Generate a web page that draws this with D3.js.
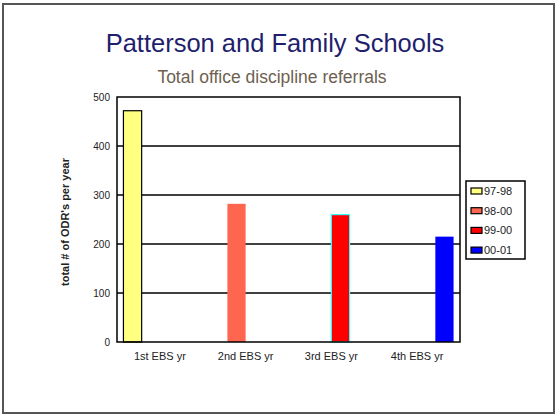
<!DOCTYPE html>
<html>
<head>
<meta charset="utf-8">
<script src="https://cdn.jsdelivr.net/npm/d3@7"></script>
<style>
  body { margin: 0; background: #fff; }
  svg { display: block; font-family: "Liberation Sans", Arial, sans-serif; }
</style>
</head>
<body>
<div id="chart"></div>
<script>
const categories = ["1st EBS yr", "2nd EBS yr", "3rd EBS yr", "4th EBS yr"];
const seriesNames = ["97-98", "98-00", "99-00", "00-01"];
const seriesColors = ["#ffff80", "#ff6650", "#ff0000", "#0000ff"];
const seriesStroke = ["#000", "none", "#33ffff", "none"];
// one value per series; each series only shows up in its own year
const values = [472, 282, 260, 215];
const yTicks = [0, 100, 200, 300, 400, 500];

const w = 557;
const h = 415;
const m = { left: 117, top: 97, right: 97, bottom: 73 };
const pw = w - m.left - m.right;
const ph = h - m.top - m.bottom;

const svg = d3.select("#chart")
    .append("svg")
    .attr("width", w)
    .attr("height", h);

// slide frame
svg.append("rect")
    .attr("x", 3).attr("y", 4)
    .attr("width", 551).attr("height", 409)
    .attr("fill", "#fff")
    .attr("stroke", "#555")
    .attr("stroke-width", 2);

svg.append("text")
    .attr("x", 275).attr("y", 52)
    .attr("text-anchor", "middle")
    .attr("font-size", 25.5)
    .attr("fill", "#1f1f6e")
    .text("Patterson and Family Schools");

svg.append("text")
    .attr("x", 272).attr("y", 83)
    .attr("text-anchor", "middle")
    .attr("font-size", 17.5)
    .attr("fill", "#6e6050")
    .text("Total office discipline referrals");

const g = svg.append("g")
    .attr("transform", `translate(${m.left},${m.top})`);

const x0 = d3.scaleBand()
    .domain(categories)
    .range([0, pw])
    .paddingInner(0.15)
    .paddingOuter(0.075);

const x1 = d3.scaleBand()
    .domain(seriesNames)
    .range([0, x0.bandwidth()]);

const y = d3.scaleLinear()
    .domain([0, 500])
    .range([ph, 0]);

// gridlines
g.selectAll(".grid")
    .data(yTicks.slice(1, -1))
    .enter()
    .append("line")
    .attr("x1", 0).attr("x2", pw)
    .attr("y1", d => y(d)).attr("y2", d => y(d))
    .attr("stroke", "#000")
    .attr("stroke-width", 1.5);

// bars
g.selectAll(".bar")
    .data(values)
    .enter()
    .append("rect")
    .attr("x", (d, i) => x0(categories[i]) + x1(seriesNames[i]))
    .attr("y", d => y(d))
    .attr("width", x1.bandwidth())
    .attr("height", d => ph - y(d))
    .attr("fill", (d, i) => seriesColors[i])
    .attr("stroke", (d, i) => seriesStroke[i])
    .attr("stroke-width", 1.2);

// plot frame
g.append("rect")
    .attr("width", pw).attr("height", ph)
    .attr("fill", "none")
    .attr("stroke", "#000")
    .attr("stroke-width", 1.5);

const yAxis = g.append("g")
    .call(d3.axisLeft(y).tickValues(yTicks).tickSize(0).tickPadding(7));
yAxis.select(".domain").remove();
yAxis.selectAll("text")
    .attr("font-size", 10)
    .attr("fill", "#222")
    .attr("font-family", "Liberation Sans, Arial, sans-serif");

const xAxis = g.append("g")
    .attr("transform", `translate(0,${ph})`)
    .call(d3.axisBottom(x0).tickSize(0).tickPadding(10));
xAxis.select(".domain").remove();
xAxis.selectAll("text")
    .attr("font-size", 11)
    .attr("fill", "#222")
    .attr("font-family", "Liberation Sans, Arial, sans-serif");

svg.append("text")
    .attr("transform", "translate(69,222) rotate(-90)")
    .attr("text-anchor", "middle")
    .attr("font-size", 11)
    .attr("font-weight", "bold")
    .attr("fill", "#222")
    .text("total # of ODR's per year");

// legend
const lg = svg.append("g")
    .attr("transform", "translate(466,181)");
lg.append("rect")
    .attr("width", 59).attr("height", 78)
    .attr("fill", "#fff")
    .attr("stroke", "#000")
    .attr("stroke-width", 1.5);
const item = lg.selectAll(".item")
    .data(seriesNames)
    .enter()
    .append("g")
    .attr("transform", (d, i) => `translate(5,${10 + i * 19.7})`);
item.append("rect")
    .attr("x", 0).attr("y", -3)
    .attr("width", 11).attr("height", 6)
    .attr("fill", (d, i) => seriesColors[i])
    .attr("stroke", "#000")
    .attr("stroke-width", 1.2);
item.append("text")
    .attr("x", 13).attr("y", 4)
    .attr("font-size", 11)
    .attr("fill", "#222")
    .text(d => d);
</script>
</body>
</html>
